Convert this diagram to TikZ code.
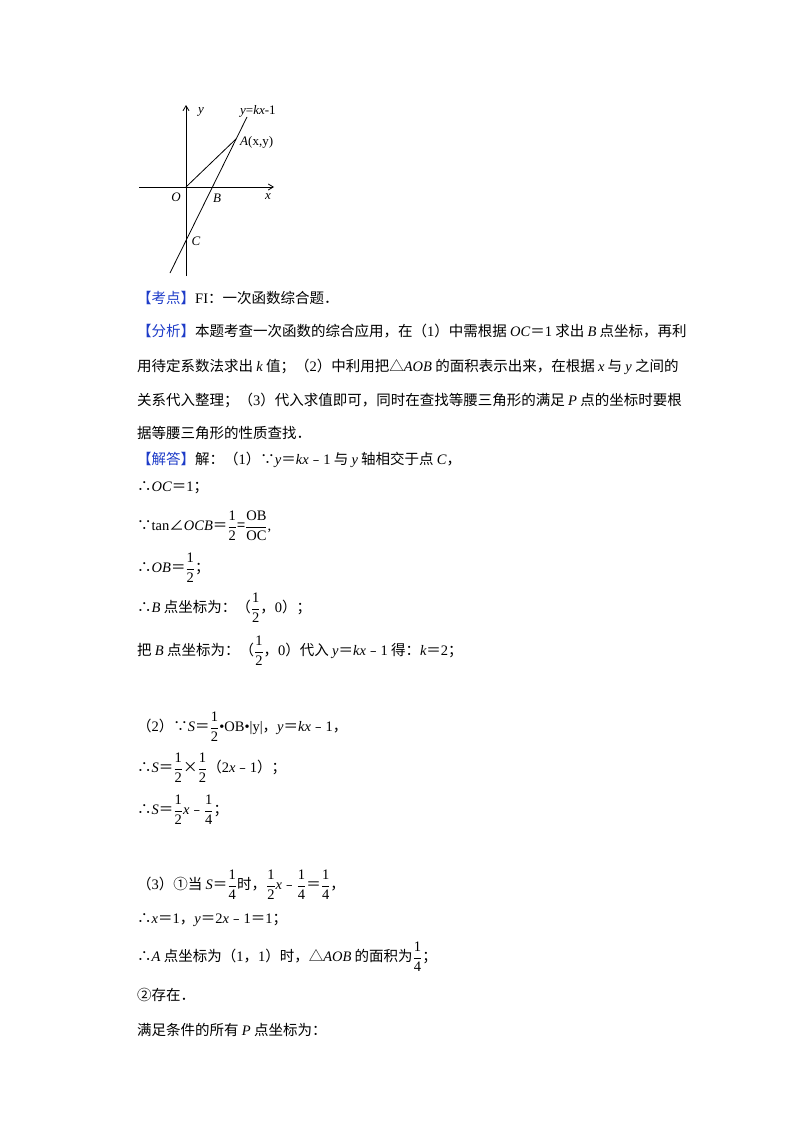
\documentclass[tikz,border=0pt]{standalone}
\usepackage{fontspec}
\usepackage{amsmath}
\usetikzlibrary{arrows.meta}
\setmainfont{Noto Sans CJK SC}
\newfontfamily\lat{Liberation Serif}
\newcommand\mi[1]{{\lat\itshape #1}}
\newcommand\nr[1]{{\lat #1}}
\newcommand\fr[2]{$\dfrac{\text{\nr{#1}}}{\text{\nr{#2}}}$}
\definecolor{hd}{RGB}{30,60,200}
\begin{document}
\begin{tikzpicture}[x=1pt,y=-1pt,
  ln/.style={anchor=west,inner sep=0pt,font=\fontsize{14.5}{17}\selectfont},
  lb/.style={inner sep=0pt,font=\lat\itshape\fontsize{13}{15}\selectfont},
  ax/.style={line width=0.8pt,-{Straight Barb[length=5pt,width=6pt]}}]
\useasboundingbox (0,0) rectangle (800,1132);
% graph
\coordinate (Ob) at (186,187);
\coordinate (yb) at (186,276);
\coordinate (yt) at (186,105);
\coordinate (xl) at (139,187);
\coordinate (xr) at (274,187);
\coordinate (L1) at (170,273);
\coordinate (L2) at (247,117);
\coordinate (A) at (236,139);
\draw[ax] (yb) -- (yt);
\draw[ax] (xl) -- (xr);
\draw[line width=0.8pt] (L1) -- (L2);
\draw[line width=0.8pt] (Ob) -- (A);
\node[lb] (ly) at (201,112) {y};
\node[lb,anchor=west] (lk) at (240,111) {y\textup{=}kx\textup{-1}};
\node[lb,anchor=west] (lA) at (240,142) {A\textup{(x,y)}};
\node[lb] (lO) at (176,197) {O};
\node[lb] (lB) at (217,198) {B};
\node[lb] (lx) at (268,197) {x};
\node[lb] (lC) at (196,241) {C};
% text
\node[ln] (t1) at (137,298) {{\color{hd}【考点】}\nr{FI}：一次函数综合题．};
\node[ln] (t2) at (137,331) {{\color{hd}【分析】}本题考查一次函数的综合应用，在（\nr{1}）中需根据 \mi{OC}＝\nr{1} 求出 \mi{B} 点坐标，再利};
\node[ln] (t3) at (137,367) {用待定系数法求出 \mi{k} 值；（\nr{2}）中利用把△\mi{AOB} 的面积表示出来，在根据 \mi{x} 与 \mi{y} 之间的};
\node[ln] (t4) at (137,400) {关系代入整理；（\nr{3}）代入求值即可，同时在查找等腰三角形的满足 \mi{P} 点的坐标时要根};
\node[ln] (t5) at (137,433) {据等腰三角形的性质查找．};
\node[ln] (t6) at (137,460) {{\color{hd}【解答】}解：（\nr{1}）∵\mi{y}＝\mi{kx}﹣\nr{1} 与 \mi{y} 轴相交于点 \mi{C}，};
\node[ln] (t7) at (137,488) {∴\mi{OC}＝\nr{1}；};
\node[ln] (t8) at (137,526) {∵\nr{tan}∠\mi{OCB}＝\fr{1}{2}=\fr{OB}{OC}\nr{,}};
\node[ln] (t9) at (137,568) {∴\mi{OB}＝\fr{1}{2}；};
\node[ln] (t10) at (137,608) {∴\mi{B} 点坐标为：（\fr{1}{2}，\nr{0}）；};
\node[ln] (t11) at (137,651) {把 \mi{B} 点坐标为：（\fr{1}{2}，\nr{0}）代入 \mi{y}＝\mi{kx}﹣\nr{1} 得：\mi{k}＝\nr{2}；};
\node[ln] (t12) at (137,727) {（\nr{2}）∵\mi{S}＝\fr{1}{2}\nr{•OB•|y|}，\mi{y}＝\mi{kx}﹣\nr{1}，};
\node[ln] (t13) at (137,768) {∴\mi{S}＝\fr{1}{2}×\fr{1}{2}（\nr{2}\mi{x}﹣\nr{1}）；};
\node[ln] (t14) at (137,810) {∴\mi{S}＝\fr{1}{2}\mi{x}﹣\fr{1}{4}；};
\node[ln] (t15) at (137,885) {（\nr{3}）①当 \mi{S}＝\fr{1}{4}时，\fr{1}{2}\mi{x}﹣\fr{1}{4}＝\fr{1}{4}，};
\node[ln] (t16) at (137,920) {∴\mi{x}＝\nr{1}，\mi{y}＝\nr{2}\mi{x}﹣\nr{1}＝\nr{1}；};
\node[ln] (t17) at (137,957) {∴\mi{A} 点坐标为（\nr{1}，\nr{1}）时，△\mi{AOB} 的面积为\fr{1}{4}；};
\node[ln] (t18) at (137,995) {②存在．};
\node[ln] (t19) at (137,1030) {满足条件的所有 \mi{P} 点坐标为：};
\end{tikzpicture}
\end{document}
